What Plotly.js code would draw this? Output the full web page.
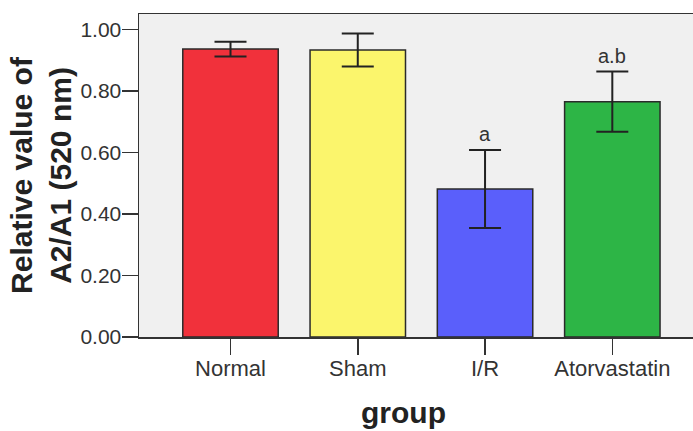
<!DOCTYPE html>
<html>
<head>
<meta charset="utf-8">
<script src="https://cdn.plot.ly/plotly-3.0.1.min.js"></script>
<style>html,body{margin:0;padding:0;background:#fff;}#chart{width:693px;height:431px;}</style>
</head>
<body>
<div id="chart"></div>
<script>
const categories = ["Normal", "Sham", "I/R", "Atorvastatin"];
const values = [0.936, 0.933, 0.481, 0.765];
const errors = [0.024, 0.054, 0.127, 0.098];
const barColors = ["#f1313b", "#fbf56c", "#5a5ffb", "#2db546"];
const labels = ["", "", "a", "a.b"];
const yTickVals = [0, 0.2, 0.4, 0.6, 0.8, 1.0];
const yTickText = ["0.00", "0.20", "0.40", "0.60", "0.80", "1.00"];

const trace = {
  type: "bar",
  x: categories,
  y: values,
  width: 0.75,
  marker: {color: barColors, line: {color: "#2a2a2a", width: 1.5}},
  error_y: {type: "data", array: errors, visible: true, color: "#222", thickness: 2, width: 16},
  hoverinfo: "none"
};

const annotations = categories.map((c, i) => ({
  x: c, y: values[i] + errors[i], xref: "x", yref: "y",
  text: labels[i], showarrow: false, yanchor: "bottom", yshift: 3,
  font: {family: "Liberation Sans, Arial, sans-serif", size: 20, color: "#333"}
})).filter(a => a.text);

const layout = {
  width: 693, height: 431,
  margin: {l: 139, r: 0, t: 14, b: 94},
  paper_bgcolor: "#ffffff",
  plot_bgcolor: "#f0f0f0",
  showlegend: false,
  font: {family: "Liberation Sans, Arial, sans-serif", color: "#333"},
  xaxis: {
    range: [-0.719, 3.634],
    showline: true, linecolor: "#333", linewidth: 1.5, mirror: true,
    ticks: "outside", ticklen: 16, tickwidth: 1.5, tickcolor: "#333",
    ticklabelstandoff: -5,
    tickfont: {size: 22, color: "#333"},
    showgrid: false, zeroline: false,
    title: {text: "<b>group</b>&nbsp;&nbsp;&nbsp;", font: {size: 30, color: "#222"}, standoff: 22}
  },
  yaxis: {
    range: [0, 1.05],
    tickvals: yTickVals, ticktext: yTickText,
    showline: true, linecolor: "#333", linewidth: 1.5,
    ticks: "outside", ticklen: 16, tickwidth: 1.5, tickcolor: "#333",
    ticklabelstandoff: -4,
    tickfont: {size: 21, color: "#333"},
    showgrid: false, zeroline: false,
    title: {text: "<b>Relative value of<br>A2/A1 (520 nm)</b>", font: {size: 30, color: "#222"}, standoff: 0}
  },
  annotations: annotations
};

Plotly.newPlot("chart", [trace], layout, {staticPlot: true, displayModeBar: false});
</script>
</body>
</html>
